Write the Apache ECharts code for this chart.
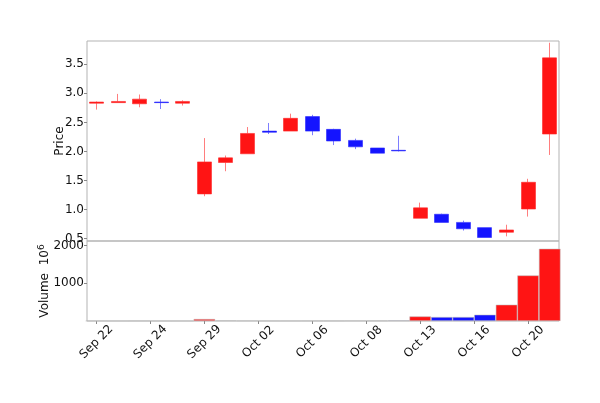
<!DOCTYPE html>
<html>
<head>
<meta charset="utf-8">
<script src="https://cdn.jsdelivr.net/npm/echarts@6/dist/echarts.min.js"></script>
<style>html,body{margin:0;padding:0;background:#fff;}#c{width:600px;height:403px;}</style>
</head>
<body>
<div id="c"></div>
<script>
// Trading days (index positions on the x axis)
const dates = ['Sep 22','Sep 23','Sep 24','Sep 25','Sep 26','Sep 29','Sep 30','Oct 01','Oct 02','Oct 03','Oct 06',
               'Oct 07','Oct 08','Oct 09','Oct 10','Oct 13','Oct 14','Oct 15','Oct 16','Oct 17','Oct 20','Oct 21'];
const opens  = [2.83,2.84,2.82,2.85,2.83,1.27,1.81,1.96,2.35,2.35,2.60,2.38,2.19,2.06,2.02,0.85,0.92,0.78,0.69,0.61,1.01,2.30];
const closes = [2.85,2.86,2.90,2.84,2.86,1.82,1.89,2.31,2.33,2.57,2.35,2.18,2.08,1.97,2.01,1.03,0.78,0.67,0.52,0.65,1.47,3.61];
const lows   = [2.72,2.84,2.76,2.73,2.79,1.23,1.66,1.96,2.30,2.35,2.28,2.11,2.04,1.97,2.00,0.85,0.78,0.64,0.52,0.54,0.88,1.94];
const highs  = [2.86,2.99,2.98,2.90,2.88,2.23,1.93,2.42,2.49,2.65,2.63,2.39,2.22,2.06,2.27,1.12,0.93,0.81,0.69,0.74,1.53,3.87];
const volumes = [3,2,4,2,2,53,16,8,5,5,6,6,8,10,18,122,106,106,167,433,1211,1920]; // in 10^6
const tickPositions = [0,2.5,5,7.5,10,12.5,15,17.5,20];
const tickLabels = ['Sep 22','Sep 24','Sep 29','Oct 02','Oct 06','Oct 08','Oct 13','Oct 16','Oct 20'];
const priceTicks = [0.5,1.0,1.5,2.0,2.5,3.0,3.5];
const volumeTicks = [1000,2000];

const UP = '#ff1414', DOWN = '#1414ff';
const XMIN = -0.44, XMAX = 21.43;
const font = 'DejaVu Sans';

const candleData = dates.map((d,i)=>[i, opens[i], closes[i], lows[i], highs[i]]);
const volData = dates.map((d,i)=>({
  value:[i, volumes[i]],
  itemStyle:{color: closes[i] >= opens[i] ? UP : DOWN}
}));

const chart = echarts.init(document.getElementById('c'), null, {renderer:'canvas'});
const plotW = 472;
const bandPx = plotW / (XMAX - XMIN);
const tickStyle = {show:true, inside:false, length:3, lineStyle:{color:'#888'}};

chart.setOption({
  animation:false,
  backgroundColor:'#fff',
  textStyle:{fontFamily:font},
  grid:[
    {left:87, top:41, width:plotW, height:200, show:true, borderColor:'#b3b3b3', borderWidth:1},
    {left:87, top:241, width:plotW, height:80, show:true, borderColor:'#b3b3b3', borderWidth:1}
  ],
  xAxis:[
    {type:'value', gridIndex:0, min:XMIN, max:XMAX, axisLine:{show:false, onZero:false}, axisTick:{show:false},
     axisLabel:{show:false}, splitLine:{show:false}},
    {type:'value', gridIndex:1, min:XMIN, max:XMAX, position:'bottom', axisLine:{show:false, onZero:false}, splitLine:{show:false},
     axisTick:Object.assign({customValues:tickPositions}, tickStyle),
     axisLabel:{show:true, customValues:tickPositions, rotate:45, margin:21, align:'center', verticalAlign:'middle',
       fontSize:12, color:'#111', fontFamily:font,
       formatter:(v)=>{const k = tickPositions.indexOf(v); return k>=0 ? tickLabels[k] : '';}}}
  ],
  yAxis:[
    {type:'value', gridIndex:0, min:0.46, max:3.90, position:'left', splitLine:{show:false}, axisLine:{show:false, onZero:false},
     axisTick:Object.assign({customValues:priceTicks}, tickStyle),
     axisLabel:{customValues:priceTicks, margin:3, fontSize:12, color:'#111', fontFamily:font,
       formatter:(v)=>v.toFixed(1)},
     name:'Price', nameLocation:'middle', nameRotate:90, nameGap:21, nameMoveOverlap:false,
     nameTextStyle:{fontSize:12, color:'#111', fontFamily:font}},
    {type:'value', gridIndex:1, min:0, max:2125, position:'left', splitLine:{show:false}, axisLine:{show:false, onZero:false},
     axisTick:Object.assign({customValues:volumeTicks}, tickStyle),
     axisLabel:{customValues:volumeTicks, margin:3, fontSize:12, color:'#111', fontFamily:font,
       formatter:(v)=>String(v)},
     name:'Volume  10{sup|6}', nameLocation:'middle', nameRotate:90, nameGap:34, nameMoveOverlap:false,
     nameTextStyle:{fontSize:12, color:'#111', fontFamily:font,
       rich:{sup:{fontSize:9, color:'#111', fontFamily:font, padding:[0,0,7,0]}}}}
  ],
  series:[
    {type:'candlestick', xAxisIndex:0, yAxisIndex:0, data:candleData, encode:{x:0, y:[1,2,3,4]},
     barWidth:14.5,
     itemStyle:{color:UP, color0:DOWN, borderColor:'rgba(255,40,40,0.6)', borderColor0:'rgba(40,40,255,0.6)', borderWidth:1}},
    {type:'bar', xAxisIndex:1, yAxisIndex:1, data:volData, barWidth:bandPx, barGap:'-100%',
     itemStyle:{borderColor:'rgba(190,190,190,0.9)', borderWidth:0.6}}
  ]
});
</script>
</body>
</html>
